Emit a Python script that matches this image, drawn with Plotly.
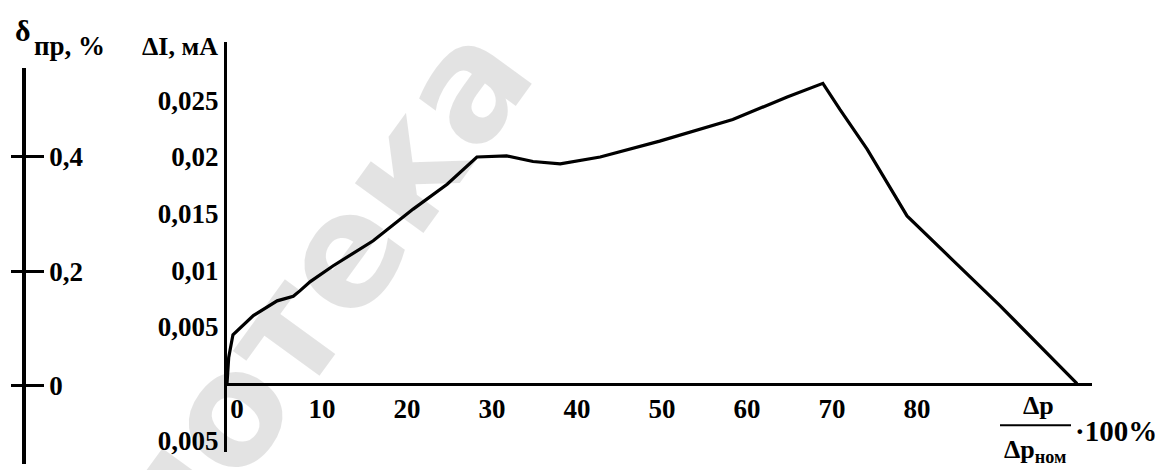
import plotly.graph_objects as go

# Relative pressure drop, % of nominal
dp_pct = [0, 0.1, 0.2, 0.7, 3.1, 5.9, 7.8, 8.6, 9.8, 12.5, 17.2, 21.9, 25.9, 29.4,
          32.9, 36.0, 39.2, 43.9, 50.9, 59.5, 65.9, 70.1, 72.1, 75.3, 80.0, 85.1,
          90.9, 100]
# Current deviation, mA
delta_i = [0, 0.0008, 0.0023, 0.0043, 0.0060, 0.0073, 0.0077, 0.0082, 0.0090,
           0.0104, 0.0126, 0.0154, 0.0176, 0.0200, 0.0201, 0.0196, 0.0194, 0.0200,
           0.0214, 0.0233, 0.0253, 0.0265, 0.0242, 0.0207, 0.0148, 0.0111, 0.0069,
           0.0]

x_ticks = [0, 10, 20, 30, 40, 50, 60, 70, 80]
x_tick_text = ["0", "10", "20", "30", "40", "50", "60", "70", "80"]
i_ticks = [-0.005, 0.005, 0.01, 0.015, 0.02, 0.025]
i_tick_text = ["0,005", "0,005", "0,01", "0,015", "0,02", "0,025"]
d_ticks = [0, 0.2, 0.4]
d_tick_text = ["0", "0,2", "0,4"]

W, H = 1176, 470
SERIF = "Liberation Serif"
BLACK = "#000000"


def px(x):
    return x / W


def py(y):
    return 1 - y / H


fig = go.Figure()

fig.add_trace(go.Scatter(
    x=dp_pct, y=delta_i, mode="lines",
    line=dict(color=BLACK, width=3.2), hoverinfo="skip", showlegend=False,
))
# empty traces that attach the δ scale to the figure
fig.add_trace(go.Scatter(x=[], y=[], yaxis="y2", showlegend=False))
fig.add_trace(go.Scatter(x=[], y=[], yaxis="y3", showlegend=False))

tick_font = dict(family=SERIF, size=27, color=BLACK, weight="bold")

fig.update_layout(
    width=W, height=H,
    margin=dict(l=0, r=0, t=0, b=0),
    paper_bgcolor="white", plot_bgcolor="rgba(0,0,0,0)",
    showlegend=False,
    xaxis=dict(
        domain=[px(227), px(1092)], range=[0, 101.76],
        anchor="free", position=py(386),
        showline=True, linecolor=BLACK, linewidth=3,
        showgrid=False, zeroline=False, ticks="",
        tickvals=x_ticks, ticktext=x_tick_text, tickfont=tick_font,
        ticklabelshift=10, ticklabelstandoff=0,
    ),
    yaxis=dict(
        domain=[py(455), py(42)], range=[-0.006053, 0.030175],
        anchor="x", side="left",
        showline=True, linecolor=BLACK, linewidth=3,
        showgrid=False, zeroline=False, ticks="",
        tickvals=i_ticks, ticktext=i_tick_text, tickfont=tick_font,
        ticklabelstandoff=0,
    ),
    yaxis2=dict(
        domain=[py(467), py(68)], range=[-0.1374, 0.5565],
        anchor="free", position=px(24), side="right",
        showline=True, linecolor=BLACK, linewidth=3.5,
        showgrid=False, zeroline=False,
        ticks="outside", ticklen=18, tickwidth=3, tickcolor=BLACK,
        tickvals=d_ticks, ticktext=d_tick_text, tickfont=tick_font,
        ticklabelstandoff=0,
    ),
    yaxis3=dict(
        domain=[py(467), py(68)], range=[-0.1374, 0.5565],
        anchor="free", position=px(24), side="left", overlaying="y2",
        showline=False, showgrid=False, zeroline=False,
        ticks="outside", ticklen=13, tickwidth=3, tickcolor=BLACK,
        tickvals=d_ticks, showticklabels=False,
    ),
)

annotations = [
    # library watermark
    dict(text="Библиотека", x=px(182), y=py(478), textangle=-54,
         font=dict(family="DejaVu Sans", size=155, color="rgba(0,0,0,0.11)",
                   weight="bold")),
    # axis titles
    dict(text="δ", x=px(23), y=py(31),
         font=dict(family=SERIF, size=30, color=BLACK, weight="bold")),
    dict(text="пр, %", x=px(32), y=py(46), xanchor="left",
         font=dict(family=SERIF, size=27, color=BLACK, weight="bold")),
    dict(text="ΔI, мА", x=px(220), y=py(47), xanchor="right",
         font=dict(family=SERIF, size=26, color=BLACK, weight="bold")),
    # Δp / Δp_ном · 100%
    dict(text="Δp", x=px(1038), y=py(408),
         font=dict(family=SERIF, size=26, color=BLACK, weight="bold")),
    dict(text="Δp<sub>ном</sub>", x=px(1002), y=py(454), xanchor="left",
         font=dict(family=SERIF, size=26, color=BLACK, weight="bold")),
    dict(text="·100%", x=px(1073), y=py(434), xanchor="left",
         font=dict(family=SERIF, size=29, color=BLACK, weight="bold")),
]
for a in annotations:
    a.setdefault("xref", "paper")
    a.setdefault("yref", "paper")
    a.setdefault("xanchor", "center")
    a.setdefault("yanchor", "middle")
    a["showarrow"] = False
fig.update_layout(annotations=annotations)

# fraction bar
fig.add_shape(type="line", xref="paper", yref="paper",
              x0=px(1000), x1=px(1071), y0=py(428), y1=py(428),
              line=dict(color=BLACK, width=2))

fig.write_html("out.html")
